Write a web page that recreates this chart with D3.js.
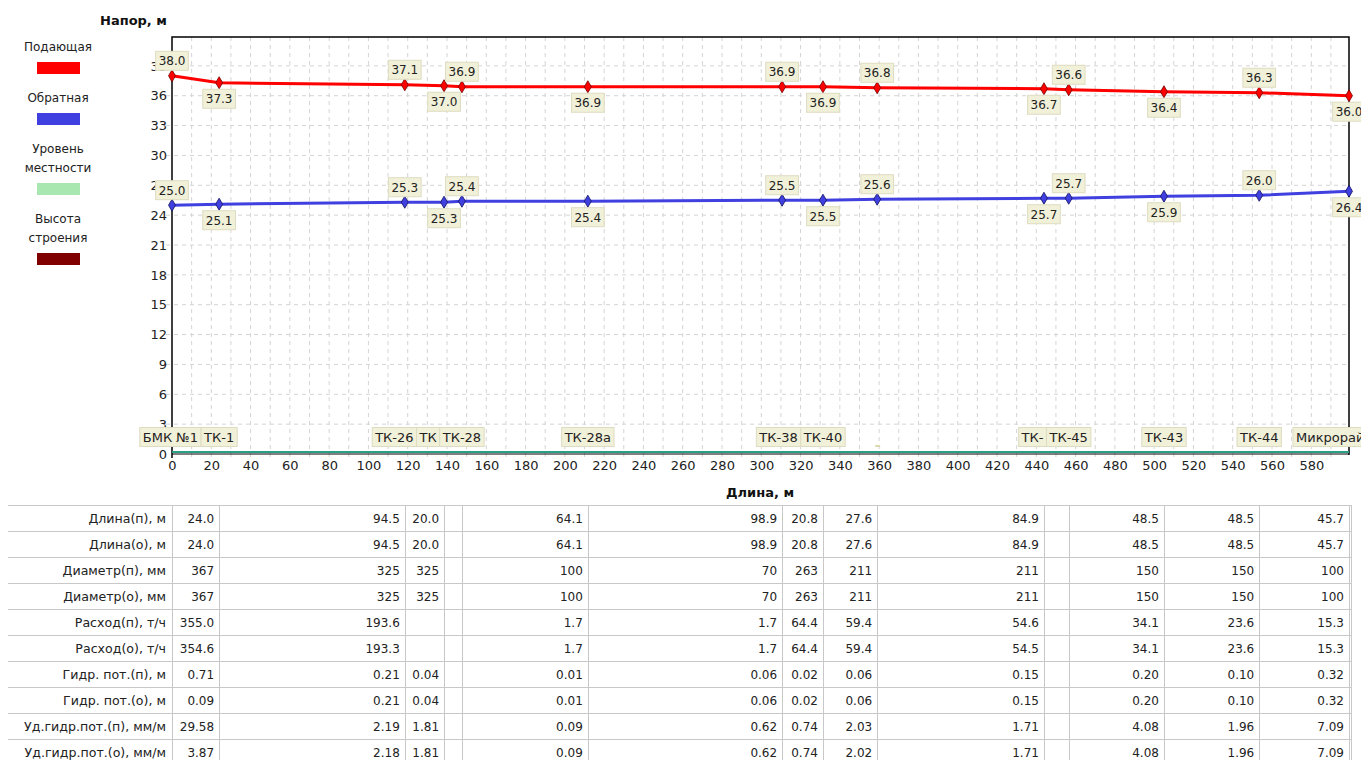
<!DOCTYPE html>
<html>
<head>
<meta charset="utf-8">
<script src="https://cdn.jsdelivr.net/npm/d3@7"></script>
<style>
  body { margin: 0; background: #fff; }
  svg { display: block; font-family: "DejaVu Sans", sans-serif; }
</style>
</head>
<body>
<script>
// узлы трассы и длины участков (м)
var nodeNames = ["БМК №1", "ТК-1", "ТК-26", "ТК", "ТК-28", "ТК-28а", "ТК-38", "ТК-40", "", "ТК-", "ТК-45", "ТК-43", "ТК-44", "Микрорайон"];
var segLengths = [24.0, 94.5, 20.0, 9.1, 64.1, 98.9, 20.8, 27.6, 84.9, 12.6, 48.5, 48.5, 45.7];

// напоры в узлах, м
var supplyHead = [38.0, 37.3, 37.1, 37.0, 36.9, 36.9, 36.9, 36.9, 36.8, 36.7, 36.6, 36.4, 36.3, 36.0];
var returnHead = [25.0, 25.1, 25.3, 25.3, 25.4, 25.4, 25.5, 25.5, 25.6, 25.7, 25.7, 25.9, 26.0, 26.4];
var terrainLevel = [0.2, 0.2, 0.2, 0.2, 0.2, 0.2, 0.2, 0.2, 0.2, 0.2, 0.2, 0.2, 0.2, 0.2];

var yTicks = [0, 3, 6, 9, 12, 15, 18, 21, 24, 27, 30, 33, 36, 39];
var xTicks = [0, 20, 40, 60, 80, 100, 120, 140, 160, 180, 200, 220, 240, 260, 280, 300, 320, 340, 360, 380, 400, 420, 440, 460, 480, 500, 520, 540, 560, 580];

var legendNames = [["Подающая"], ["Обратная"], ["Уровень", "местности"], ["Высота", "строения"]];
var legendColors = ["#ff0000", "#4040e0", "#a8e8b0", "#800000"];

// таблица по участкам
var rowNames = ["Длина(п), м", "Длина(о), м", "Диаметр(п), мм", "Диаметр(о), мм", "Расход(п), т/ч", "Расход(о), т/ч",
  "Гидр. пот.(п), м", "Гидр. пот.(о), м", "Уд.гидр.пот.(п), мм/м", "Уд.гидр.пот.(о), мм/м"];
var lenSupply = ["24.0", "94.5", "20.0", "", "64.1", "98.9", "20.8", "27.6", "84.9", "", "48.5", "48.5", "45.7"];
var lenReturn = ["24.0", "94.5", "20.0", "", "64.1", "98.9", "20.8", "27.6", "84.9", "", "48.5", "48.5", "45.7"];
var diamSupply = ["367", "325", "325", "", "100", "70", "263", "211", "211", "", "150", "150", "100"];
var diamReturn = ["367", "325", "325", "", "100", "70", "263", "211", "211", "", "150", "150", "100"];
var flowSupply = ["355.0", "193.6", "", "", "1.7", "1.7", "64.4", "59.4", "54.6", "", "34.1", "23.6", "15.3"];
var flowReturn = ["354.6", "193.3", "", "", "1.7", "1.7", "64.4", "59.4", "54.5", "", "34.1", "23.6", "15.3"];
var lossSupply = ["0.71", "0.21", "0.04", "", "0.01", "0.06", "0.02", "0.06", "0.15", "", "0.20", "0.10", "0.32"];
var lossReturn = ["0.09", "0.21", "0.04", "", "0.01", "0.06", "0.02", "0.06", "0.15", "", "0.20", "0.10", "0.32"];
var specSupply = ["29.58", "2.19", "1.81", "", "0.09", "0.62", "0.74", "2.03", "1.71", "", "4.08", "1.96", "7.09"];
var specReturn = ["3.87", "2.18", "1.81", "", "0.09", "0.62", "0.74", "2.02", "1.71", "", "4.08", "1.96", "7.09"];
var tableRows = [lenSupply, lenReturn, diamSupply, diamReturn, flowSupply, flowReturn, lossSupply, lossReturn, specSupply, specReturn];

// координаты узлов = накопленная длина
var nodeDist = [0];
segLengths.forEach(function (l, i) { nodeDist.push(+(nodeDist[i] + l).toFixed(1)); });
var total = nodeDist[nodeDist.length - 1];

var width = 1361, height = 760;
var plotL = 172, plotR = 1349, plotT = 37, plotB = 454;

var svg = d3.select("body").append("svg")
    .attr("width", width)
    .attr("height", height);

var x = d3.scaleLinear().domain([0, total]).range([plotL, plotR]);
var y = d3.scaleLinear().domain([0, 41.9]).range([plotB, plotT]);

// сетка
var grid = svg.append("g").attr("stroke", "#d4d4d4").attr("stroke-dasharray", "4,4");
grid.selectAll("line.v").data(d3.range(10, total, 10)).enter().append("line")
    .attr("class", "v")
    .attr("x1", function (d) { return x(d); })
    .attr("x2", function (d) { return x(d); })
    .attr("y1", plotT)
    .attr("y2", plotB + 6);
grid.selectAll("line.h").data(yTicks.slice(1)).enter().append("line")
    .attr("class", "h")
    .attr("x1", plotL - 6)
    .attr("x2", plotR)
    .attr("y1", function (d) { return y(d); })
    .attr("y2", function (d) { return y(d); });

// оси
var yAxis = svg.append("g")
    .attr("transform", "translate(" + plotL + ",0)")
    .call(d3.axisLeft(y).tickValues(yTicks).tickSize(0).tickPadding(5));
yAxis.select(".domain").remove();
yAxis.selectAll("text").attr("font-size", 13).attr("fill", "#222").attr("font-family", "DejaVu Sans");

var xAxis = svg.append("g")
    .attr("transform", "translate(0," + plotB + ")")
    .call(d3.axisBottom(x).tickValues(xTicks).tickSize(0).tickPadding(7));
xAxis.select(".domain").remove();
xAxis.selectAll("text").attr("font-size", 13).attr("fill", "#222").attr("font-family", "DejaVu Sans");

svg.append("path")
    .attr("d", "M" + plotL + "," + (plotB + 4) + "V" + plotT + "H" + plotR + "V" + (plotB + 1))
    .attr("fill", "none")
    .attr("stroke", "#000")
    .attr("stroke-width", 1.5);
svg.append("line")
    .attr("x1", plotL).attr("x2", plotR)
    .attr("y1", plotB).attr("y2", plotB)
    .attr("stroke", "#000");

svg.append("text")
    .attr("x", 100).attr("y", 25)
    .attr("font-size", 13).attr("font-weight", "bold").attr("fill", "#111")
    .text("Напор, м");
svg.append("text")
    .attr("x", 760).attr("y", 497)
    .attr("text-anchor", "middle")
    .attr("font-size", 13).attr("font-weight", "bold").attr("fill", "#111")
    .text("Длина, м");

// линии
var line = d3.line()
    .x(function (d, i) { return x(nodeDist[i]); })
    .y(function (d) { return y(d); });

svg.append("path").datum(terrainLevel)
    .attr("d", line).attr("fill", "none")
    .attr("stroke", "#2a9f86").attr("stroke-width", 2);

function drawSeries(values, color, dark) {
    svg.append("path").datum(values)
        .attr("d", line).attr("fill", "none")
        .attr("stroke", color).attr("stroke-width", 3);
    svg.selectAll(null).data(values).enter().append("path")
        .attr("d", d3.symbol(d3.symbolDiamond, 42))
        .attr("transform", function (d, i) { return "translate(" + x(nodeDist[i]) + "," + y(d) + ")"; })
        .attr("fill", color)
        .attr("stroke", dark)
        .attr("stroke-width", 0.8);
}
drawSeries(supplyHead, "#ff0000", "#700000");
drawSeries(returnHead, "#4040e0", "#101060");

// подписи в рамках
function boxLabel(g, cx, cy, txt, size) {
    var t = g.append("text")
        .attr("x", cx).attr("y", cy)
        .attr("dy", "0.36em")
        .attr("text-anchor", "middle")
        .attr("font-size", size)
        .attr("fill", "#222")
        .text(txt);
    var w = t.node().getComputedTextLength();
    g.insert("rect", "text")
        .attr("x", cx - w / 2 - 3).attr("y", cy - 9.5)
        .attr("width", w + 6).attr("height", 19)
        .attr("fill", "#f1f0d9")
        .attr("stroke", "#dedcc0")
        .attr("stroke-width", 1);
    return w;
}

function valueLabels(values) {
    values.forEach(function (v, i) {
        var g = svg.append("g");
        var cy = i % 2 === 0 ? y(v) - 15 : y(v) + 16;
        boxLabel(g, x(nodeDist[i]), cy, v.toFixed(1), 12);
    });
}
valueLabels(supplyHead);
valueLabels(returnHead);

// имена узлов: сдвиг влево, если налезают на соседа справа
var measure = svg.append("text").attr("font-size", 13);
var nameW = nodeNames.map(function (n) { measure.text(n); return n === "" ? 0 : measure.node().getComputedTextLength() + 6; });
measure.remove();
var nameCx = nodeDist.map(function (d) { return x(d); });
var lastI = nodeNames.length - 1;
nameCx[lastI] = 1293 + nameW[lastI] / 2;
for (var i = lastI - 1; i >= 0; i--) {
    if (nameW[i] === 0) continue;
    var j = i + 1;
    while (j <= lastI && nameW[j] === 0) j++;
    var limit = nameCx[j] - nameW[j] / 2;
    if (nameCx[i] + nameW[i] / 2 > limit) nameCx[i] = limit - nameW[i] / 2;
}
nodeNames.forEach(function (n, i) {
    var g = svg.append("g");
    if (n === "") {
        g.append("rect").attr("x", nameCx[i] - 2).attr("y", 445).attr("width", 5).attr("height", 2).attr("fill", "#dcd9b0");
        return;
    }
    boxLabel(g, nameCx[i], 437, n, 13);
});

// легенда
var ly = 47;
legendNames.forEach(function (lines, i) {
    lines.forEach(function (s) {
        svg.append("text")
            .attr("x", 58).attr("y", ly).attr("dy", "0.36em")
            .attr("text-anchor", "middle")
            .attr("font-size", 12).attr("fill", "#222")
            .text(s);
        ly += 19;
    });
    svg.append("rect")
        .attr("x", 37).attr("y", ly - 4)
        .attr("width", 43).attr("height", 12)
        .attr("fill", legendColors[i]);
    ly += 32;
});

// таблица
var tTop = 505, rowH = 26;
var tbl = svg.append("g").attr("font-size", 12).attr("fill", "#222");
var colEdges = [plotL].concat(nodeDist.slice(1).map(function (d) { return x(d); }));

tbl.selectAll("line.row").data(d3.range(rowNames.length + 1)).enter().append("line")
    .attr("class", "row")
    .attr("x1", 8).attr("x2", plotR + 2)
    .attr("y1", function (d) { return tTop + d * rowH + 0.5; })
    .attr("y2", function (d) { return tTop + d * rowH + 0.5; })
    .attr("stroke", "#c8c8c8");
tbl.selectAll("line.col").data(colEdges).enter().append("line")
    .attr("class", "col")
    .attr("x1", function (d) { return Math.round(d) + 0.5; })
    .attr("x2", function (d) { return Math.round(d) + 0.5; })
    .attr("y1", tTop).attr("y2", height)
    .attr("stroke", "#c8c8c8");
tbl.append("line")
    .attr("x1", plotR + 2.5).attr("x2", plotR + 2.5)
    .attr("y1", tTop).attr("y2", height)
    .attr("stroke", "#c8c8c8");

rowNames.forEach(function (r, ri) {
    var cy = tTop + ri * rowH + rowH / 2 + 0.5;
    tbl.append("text")
        .attr("x", 166).attr("y", cy).attr("dy", "0.36em")
        .attr("text-anchor", "end")
        .attr("font-size", 12.6)
        .text(r);
    tableRows[ri].forEach(function (v, ci) {
        if (v === "") return;
        tbl.append("text")
            .attr("x", colEdges[ci + 1] - 5).attr("y", cy).attr("dy", "0.36em")
            .attr("text-anchor", "end")
            .text(v);
    });
});
</script>
</body>
</html>
